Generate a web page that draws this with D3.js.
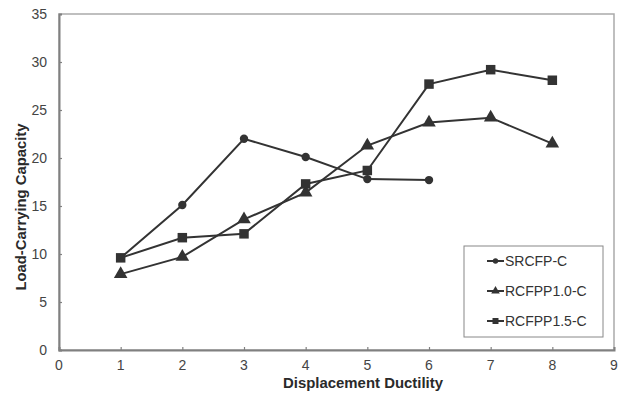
<!DOCTYPE html>
<html><head><meta charset="utf-8">
<script src="https://cdn.jsdelivr.net/npm/d3@7"></script>
<style>body{margin:0;background:#fff}svg{display:block}text{font-family:"Liberation Sans",Arial,sans-serif}</style>
</head><body><svg id="c" width="631" height="394"></svg>
<script>
const xValues = [1,2,3,4,5,6,7,8];
const srcfp = [9.6,15.1,22.0,20.1,17.8,17.7];
const rcfpp10 = [7.9,9.7,13.6,16.4,21.3,23.7,24.2,21.5];
const rcfpp15 = [9.6,11.7,12.1,17.3,18.7,27.7,29.2,28.1];
const seriesNames = ["SRCFP-C","RCFPP1.0-C","RCFPP1.5-C"];
const xTicks = [0,1,2,3,4,5,6,7,8,9];
const yTicks = [0,5,10,15,20,25,30,35];

const svg = d3.select("#c");
const L=59,R=614,T=14,B=350;
const x = d3.scaleLinear().domain([0,9]).range([L,R]);
const y = d3.scaleLinear().domain([0,35]).range([B,T]);
const axisCol="#808080", txtCol="#444";

svg.append("rect").attr("x",L).attr("y",T).attr("width",R-L).attr("height",B-T)
  .attr("fill","none").attr("stroke","#aaa").attr("stroke-width",1.5);

const ya = svg.append("g").attr("transform",`translate(${L},0)`)
  .call(d3.axisRight(y).tickValues(yTicks).tickSize(3).tickFormat(""));
const xa = svg.append("g").attr("transform",`translate(0,${B})`)
  .call(d3.axisTop(x).tickValues(xTicks).tickSize(3).tickFormat(""));
[ya,xa].forEach(g=>{g.select(".domain").attr("stroke",axisCol).attr("stroke-width",2);
  g.selectAll(".tick line").attr("stroke",axisCol).attr("stroke-width",1.2);});

svg.append("g").selectAll("text").data(yTicks).join("text")
  .attr("x",47).attr("y",d=>y(d)).attr("dy","0.35em").attr("text-anchor","end")
  .attr("font-size",14).attr("fill",txtCol).text(d=>d);
svg.append("g").selectAll("text").data(xTicks).join("text")
  .attr("x",d=>x(d)).attr("y",370).attr("text-anchor","middle")
  .attr("font-size",14).attr("fill",txtCol).text(d=>d);

svg.append("text").attr("x",363).attr("y",388).attr("text-anchor","middle")
  .attr("font-size",15).attr("font-weight","bold").attr("fill","#2a2a2a")
  .attr("textLength",160).attr("lengthAdjust","spacingAndGlyphs").text("Displacement Ductility");
svg.append("text").attr("transform","translate(26,207) rotate(-90)").attr("text-anchor","middle")
  .attr("font-size",15).attr("font-weight","bold").attr("fill","#2a2a2a")
  .attr("textLength",167).attr("lengthAdjust","spacingAndGlyphs").text("Load-Carrying Capacity");

const lineCol="#333";
const series=[
 {name:seriesNames[0],vals:srcfp,sym:d3.symbolCircle,size:55},
 {name:seriesNames[1],vals:rcfpp10,sym:d3.symbolTriangle,size:80},
 {name:seriesNames[2],vals:rcfpp15,sym:d3.symbolSquare,size:90}
];
const line=d3.line().x((d,i)=>x(xValues[i])).y(d=>y(d));
series.forEach(s=>{
  svg.append("path").attr("d",line(s.vals)).attr("fill","none").attr("stroke",lineCol).attr("stroke-width",2);
});
series.forEach(s=>{
  svg.append("g").selectAll("path").data(s.vals).join("path")
    .attr("transform",(d,i)=>`translate(${x(xValues[i])},${y(d)})`)
    .attr("d",d3.symbol(s.sym,s.size)).attr("fill",lineCol);
});

const lg=svg.append("g");
lg.append("rect").attr("x",464).attr("y",246).attr("width",139).attr("height",91)
  .attr("fill","#fff").attr("stroke","#888").attr("stroke-width",1);
series.forEach((s,i)=>{
  const yy=261+i*30;
  lg.append("line").attr("x1",487).attr("x2",504).attr("y1",yy).attr("y2",yy).attr("stroke",lineCol).attr("stroke-width",2);
  lg.append("path").attr("transform",`translate(495.5,${yy})`).attr("d",d3.symbol(s.sym,s.size*0.4)).attr("fill",lineCol);
  lg.append("text").attr("x",505).attr("y",yy).attr("dy","0.35em").attr("font-size",14).attr("fill","#333").text(s.name);
});
</script></body></html>
